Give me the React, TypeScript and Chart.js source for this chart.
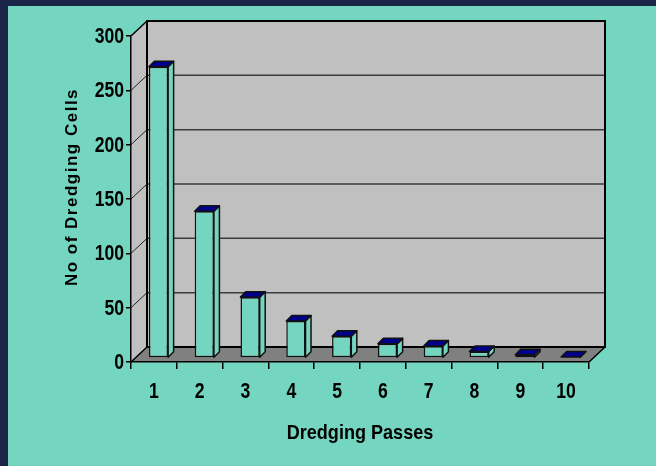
import React, { useEffect, useRef } from "react";
import { Chart, registerables } from "chart.js";

Chart.register(...registerables);

const categories = ["1", "2", "3", "4", "5", "6", "7", "8", "9", "10"];
const cellCounts = [268, 135, 56, 34, 20, 13, 11, 6, 3, 1];
const yTicks = [0, 50, 100, 150, 200, 250, 300];
const xTitle = "Dredging Passes";
const yTitle = "No of Dredging Cells";

const W = 656;
const H = 466;
const NAVY = "#1a2548";
const TEAL = "#74d6c0";
const WALL = "#c0c0c0";
const FLOOR = "#808080";
const TOP = "#00008b";
const DEPTH_X = 16;
const DEPTH_Y = -15;
const BAR_SHIFT_X = 4.6;
const BAR_SHIFT_Y = -4;
const BAR_DX = 5.5;
const BAR_DY = -5.5;
const FONT = "'Liberation Sans', Arial, sans-serif";
const NARROW_SCALE = 0.8;

function narrowText(ctx: CanvasRenderingContext2D, text: string, x: number, y: number, size: number, align: CanvasTextAlign, baseline: CanvasTextBaseline, sx: number) {
  ctx.save();
  ctx.translate(x, y);
  ctx.scale(sx, 1);
  ctx.font = `bold ${size}px ${FONT}`;
  ctx.fillStyle = "#000";
  ctx.textAlign = align;
  ctx.textBaseline = baseline;
  ctx.fillText(text, 0, 0);
  ctx.restore();
}

const scenePlugin = {
  id: "scene",
  beforeDraw(chart: any) {
    const { ctx, chartArea, scales } = chart;
    const { left, right, top, bottom } = chartArea;
    const y = scales.y;
    ctx.save();
    ctx.fillStyle = NAVY;
    ctx.fillRect(0, 0, W, H);
    ctx.fillStyle = TEAL;
    ctx.fillRect(8, 6, W - 8, H - 6);
    const bl = left + DEPTH_X, br = right + DEPTH_X, bt = top + DEPTH_Y, bb = bottom + DEPTH_Y;
    ctx.fillStyle = WALL;
    ctx.fillRect(bl, bt, br - bl, bb - bt);
    ctx.beginPath();
    ctx.moveTo(left, bottom);
    ctx.lineTo(left, top);
    ctx.lineTo(bl, bt);
    ctx.lineTo(bl, bb);
    ctx.closePath();
    ctx.fill();
    ctx.fillStyle = FLOOR;
    ctx.beginPath();
    ctx.moveTo(left, bottom);
    ctx.lineTo(right, bottom);
    ctx.lineTo(br, bb);
    ctx.lineTo(bl, bb);
    ctx.closePath();
    ctx.fill();
    yTicks.forEach((v) => {
      if (v === yTicks[0] || v === yTicks[yTicks.length - 1]) return;
      const py = y.getPixelForValue(v);
      ctx.strokeStyle = "#3c3c3c";
      ctx.lineWidth = 1.5;
      ctx.beginPath();
      ctx.moveTo(bl, py + DEPTH_Y);
      ctx.lineTo(br, py + DEPTH_Y);
      ctx.stroke();
      ctx.strokeStyle = "#222";
      ctx.lineWidth = 1;
      ctx.beginPath();
      ctx.moveTo(left, py);
      ctx.lineTo(bl, py + DEPTH_Y);
      ctx.stroke();
    });
    ctx.strokeStyle = "#000";
    ctx.lineWidth = 2;
    ctx.strokeRect(bl, bt, br - bl, bb - bt);
    ctx.lineWidth = 1.5;
    ctx.beginPath();
    ctx.moveTo(left, top);
    ctx.lineTo(bl, bt);
    ctx.moveTo(left, bottom);
    ctx.lineTo(bl, bb);
    ctx.moveTo(right, bottom);
    ctx.lineTo(br, bb);
    ctx.stroke();
    ctx.restore();
  },
  beforeDatasetsDraw(chart: any) {
    chart.ctx.save();
    chart.ctx.translate(BAR_SHIFT_X, BAR_SHIFT_Y);
  },
  afterDatasetsDraw(chart: any) {
    const ctx = chart.ctx;
    chart.getDatasetMeta(0).data.forEach((bar: any) => {
      const { x, y, base, width } = bar.getProps(["x", "y", "base", "width"], true);
      const L = x - width / 2;
      const R = x + width / 2;
      ctx.lineWidth = 1.5;
      ctx.strokeStyle = "#111";
      ctx.lineJoin = "round";
      ctx.fillStyle = TEAL;
      ctx.beginPath();
      ctx.moveTo(R, y);
      ctx.lineTo(R + BAR_DX, y + BAR_DY);
      ctx.lineTo(R + BAR_DX, base + BAR_DY);
      ctx.lineTo(R, base);
      ctx.closePath();
      ctx.fill();
      ctx.stroke();
      ctx.fillStyle = TOP;
      ctx.beginPath();
      ctx.moveTo(L, y);
      ctx.lineTo(L + BAR_DX, y + BAR_DY);
      ctx.lineTo(R + BAR_DX, y + BAR_DY);
      ctx.lineTo(R, y);
      ctx.closePath();
      ctx.fill();
      ctx.stroke();
    });
    ctx.restore();
  },
  afterDraw(chart: any) {
    const ctx = chart.ctx;
    const { x, y } = chart.scales;
    const area = chart.chartArea;
    // y tick labels
    y.ticks.forEach((t: any) => {
      narrowText(ctx, String(t.value), area.left - 7, y.getPixelForValue(t.value) + 1, 22, "right", "middle", NARROW_SCALE);
    });
    // x tick labels
    x.ticks.forEach((t: any, i: number) => {
      narrowText(ctx, String(x.getLabelForValue(t.value)), x.getPixelForTick(i), 398, 22, "center", "alphabetic", NARROW_SCALE);
    });
    // x title
    narrowText(ctx, xTitle, (area.left + area.right) / 2, 439, 21, "center", "alphabetic", 0.86);
    // y title
    ctx.save();
    ctx.translate(72, 187);
    ctx.rotate(-Math.PI / 2);
    ctx.font = `bold 17px ${FONT}`;
    try {
      (ctx as any).letterSpacing = "1.5px";
    } catch (e) {}
    ctx.fillStyle = "#000";
    ctx.textAlign = "center";
    ctx.textBaseline = "middle";
    ctx.fillText(yTitle, 0, 0);
    ctx.restore();
  },
};

export default function App() {
  const ref = useRef<HTMLCanvasElement | null>(null);
  useEffect(() => {
    if (!ref.current) return;
    const chart = new Chart(ref.current, {
      type: "bar",
      data: {
        labels: categories,
        datasets: [
          {
            data: cellCounts,
            backgroundColor: TEAL,
            borderColor: "#111",
            borderWidth: 1.5,
            borderSkipped: false,
            categoryPercentage: 1,
            barPercentage: 0.42,
          } as any,
        ],
      },
      options: {
        responsive: false,
        animation: false,
        devicePixelRatio: 1,
        layout: { padding: { top: 36, right: 67, left: 0, bottom: 0 } },
        plugins: { legend: { display: false }, tooltip: { enabled: false } },
        scales: {
          x: {
            grid: { display: true, drawOnChartArea: false, drawTicks: true, tickLength: 7, color: "#000", lineWidth: 1.5, offset: true },
            border: { display: true, color: "#000", width: 1.5 },
            ticks: { display: false, autoSkip: false },
            afterFit(s: any) {
              s.height = 104;
            },
          },
          y: {
            min: yTicks[0],
            max: yTicks[yTicks.length - 1],
            grid: { display: true, drawOnChartArea: false, tickLength: 5, color: "#000", lineWidth: 1.5 },
            border: { display: true, color: "#000", width: 1.5 },
            ticks: { display: false, stepSize: 50 },
            afterFit(s: any) {
              s.width = 131;
            },
          },
        },
      } as any,
      plugins: [scenePlugin],
    });
    return () => chart.destroy();
  }, []);
  return (
    <div style={{ position: "fixed", left: 0, top: 0, width: W, height: H }}>
      <canvas ref={ref} width={W} height={H} style={{ display: "block" }} />
    </div>
  );
}
